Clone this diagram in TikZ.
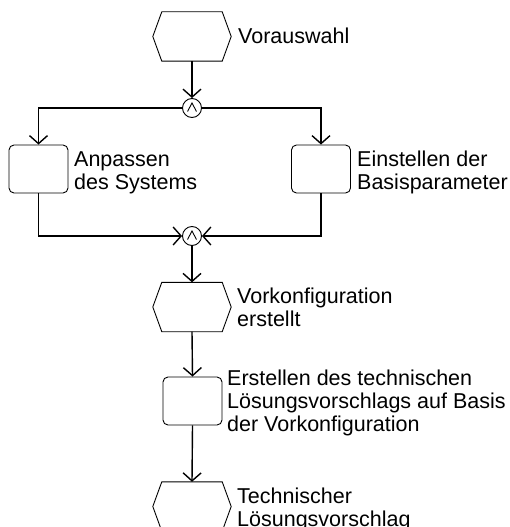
\documentclass[tikz,border=0pt]{standalone}
\usepackage{fontspec}
\setmainfont{Liberation Sans}
\usetikzlibrary{arrows.meta}
\begin{document}
\begin{tikzpicture}[x=1pt,y=-1pt,
  eventbox/.style={draw=none, minimum width=78pt, minimum height=49pt, inner sep=0pt},
  funcbox/.style={draw, rounded corners=5pt, minimum width=59pt, minimum height=48pt, inner sep=0pt, line width=0.9pt},
  junction/.style={draw, circle, minimum size=19pt, inner sep=0pt, line width=0.9pt},
  flow/.style={line width=1.4pt, -{Straight Barb[length=8pt,width=18pt]}},
  txt/.style={anchor=base west, align=left, inner sep=0pt, font=\fontsize{21.5}{23.3}\selectfont}]
\useasboundingbox (0,0) rectangle (509,527);

% events (hexagons) and functions (rounded boxes)
\node[eventbox] (h1) at (192,36.5) {};
\node[junction] (j1) at (192,108) {};
\node[funcbox] (b1) at (38.5,169) {};
\node[funcbox] (b2) at (321,169) {};
\node[junction] (j2) at (192,236) {};
\node[eventbox] (h2) at (192,307) {};
\node[funcbox] (b3) at (192.5,401) {};
\node[eventbox] (h3) at (192,506.5) {};

\foreach \n in {h1,h2,h3}
  \draw[line width=0.9pt] ([xshift=9pt]\n.north west) -- ([xshift=-9pt]\n.north east) -- (\n.east)
    -- ([xshift=-9pt]\n.south east) -- ([xshift=9pt]\n.south west) -- (\n.west) -- cycle;

% AND operators
\foreach \n in {j1,j2}
  \draw[line width=0.9pt] ([shift={(-4.5,3.5)}]\n.center) -- ([shift={(0,-5)}]\n.center) -- ([shift={(4.5,3.5)}]\n.center);

% labels (anchored at the baseline of their last line)
\node[txt] (t1) at (238,43.5) {Vorauswahl};
\node[txt] (t2) at (74,189.3) {Anpassen\\des Systems};
\node[txt] (t3) at (357,189.3) {Einstellen der\\Basisparameter};
\node[txt] (t4) at (237,326.6) {Vorkonfiguration\\erstellt};
\node[txt] (t5) at (227,431.6) {Erstellen des technischen\\Lösungsvorschlags auf Basis\\der Vorkonfiguration};
\node[txt] (t6) at (237,526.3) {Technischer\\Lösungsvorschlag};

% control flow
\draw[flow] (h1.south) -- (j1.north);
\draw[flow] (j1.west) -| (b1.north);
\draw[flow] (j1.east) -| (b2.north);
\draw[flow] (b1.south) |- (j2.west);
\draw[flow] (b2.south) |- (j2.east);
\draw[flow] (j2.south) -- (h2.north);
\draw[flow] (h2.south) -- (b3.north);
\draw[flow] (b3.south) -- (h3.north);
\end{tikzpicture}
\end{document}
